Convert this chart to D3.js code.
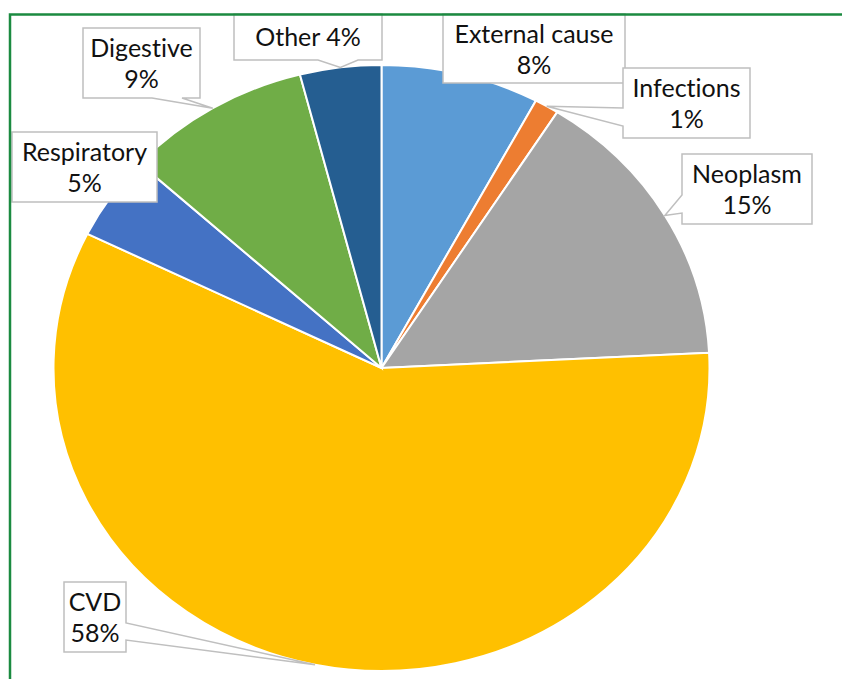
<!DOCTYPE html>
<html>
<head>
<meta charset="utf-8">
<script src="https://cdn.jsdelivr.net/npm/d3@7"></script>
<style>
body { margin: 0; background: #fff; }
text { font-family: Lato, "Noto Sans", sans-serif; font-variant-ligatures: none; }
</style>
</head>
<body>
<div id="chart"></div>
<script>
var causes = ["External cause", "Infections", "Neoplasm", "CVD", "Respiratory", "Digestive", "Other"];
var shares = [7.8, 1.2, 15.2, 58.1, 4.5, 9.2, 4.0];
var colors = ["#5B9BD5", "#ED7D31", "#A5A5A5", "#FFC000", "#4472C4", "#70AD47", "#255E91"];

// hand placed label boxes, like the ones dragged around in the original
var labelBoxes = [
    {x: 443, y: 14, w: 182, h: 69},
    {x: 623, y: 68, w: 127, h: 70, side: "left", b0: 40, b1: 58},
    {x: 682, y: 154, w: 130, h: 70, side: "left", b0: 41, b1: 59},
    {x: 64, y: 582, w: 62, h: 70, side: "right", b0: 41, b1: 58},
    {x: 12, y: 132, w: 145, h: 70},
    {x: 83, y: 28, w: 117, h: 70, side: "bottom", b0: 69, b1: 99},
    {x: 234, y: 14, w: 148, h: 46, side: "bottom", b0: 84, b1: 124}
];

var width = 842,
    height = 679,
    cx = 381.5,
    cy = 368,
    ry = 303,
    rx = 328,
    sx = rx / ry;

var svg = d3.select("#chart")
    .append("svg")
    .attr("width", width)
    .attr("height", height);

var data = causes.map(function(c, i) {
    return {name: c, value: shares[i], color: colors[i], box: labelBoxes[i]};
});

var pie = d3.pie()
    .sort(null)
    .value(function(d) { return d.value; });

var arcs = pie(data);

var arc = d3.arc()
    .innerRadius(0)
    .outerRadius(ry);

var edge = d3.arc()
    .innerRadius(ry)
    .outerRadius(ry);

var plot = svg.append("g")
    .attr("transform", "translate(" + cx + "," + cy + ") scale(" + sx + ",1)");

plot.selectAll("path")
    .data(arcs)
    .enter()
    .append("path")
    .attr("d", arc)
    .attr("fill", function(d) { return d.data.color; })
    .attr("stroke", "#fff")
    .attr("stroke-width", 2)
    .attr("vector-effect", "non-scaling-stroke");

function calloutPath(b, p) {
    var x = b.x, y = b.y, w = b.w, h = b.h;
    var inside = p[0] >= x && p[0] <= x + w && p[1] >= y && p[1] <= y + h;
    var pts;
    if (!b.side || inside) {
        pts = [[x, y], [x + w, y], [x + w, y + h], [x, y + h]];
    } else if (b.side == "bottom") {
        pts = [[x, y], [x + w, y], [x + w, y + h], [x + b.b1, y + h], p, [x + b.b0, y + h], [x, y + h]];
    } else if (b.side == "left") {
        pts = [[x, y], [x + w, y], [x + w, y + h], [x, y + h], [x, y + b.b1], p, [x, y + b.b0]];
    } else {
        pts = [[x, y], [x + w, y], [x + w, y + b.b0], p, [x + w, y + b.b1], [x + w, y + h], [x, y + h]];
    }
    return "M" + pts.map(function(q) { return q[0] + "," + q[1]; }).join("L") + "Z";
}

var labels = svg.append("g");

var label = labels.selectAll("g")
    .data(arcs)
    .enter()
    .append("g");

label.append("path")
    .attr("d", function(d) {
        var c = edge.centroid(d);
        var p = [cx + c[0] * sx, cy + c[1]];
        return calloutPath(d.data.box, p);
    })
    .attr("fill", "#fff")
    .attr("stroke", "#BFBFBF")
    .attr("stroke-width", 1.5);

label.each(function(d) {
    var b = d.data.box;
    var pct = Math.round(d.data.value) + "%";
    var lines = b.h < 60 ? [d.data.name + " " + pct] : [d.data.name, pct];
    var base = lines.length == 1 ? [32] : [29, 60];
    d3.select(this).selectAll("text")
        .data(lines)
        .enter()
        .append("text")
        .attr("x", b.x + b.w / 2)
        .attr("y", function(t, i) { return b.y + base[i]; })
        .attr("text-anchor", "middle")
        .attr("font-size", 25)
        .attr("fill", "#111")
        .text(function(t) { return t; });
});

// chart frame, runs off the right and bottom of the picture
svg.append("rect")
    .attr("x", 10)
    .attr("y", 14.5)
    .attr("width", 900)
    .attr("height", 800)
    .attr("fill", "none")
    .attr("stroke", "#1B8A40")
    .attr("stroke-width", 2.5);
</script>
</body>
</html>
